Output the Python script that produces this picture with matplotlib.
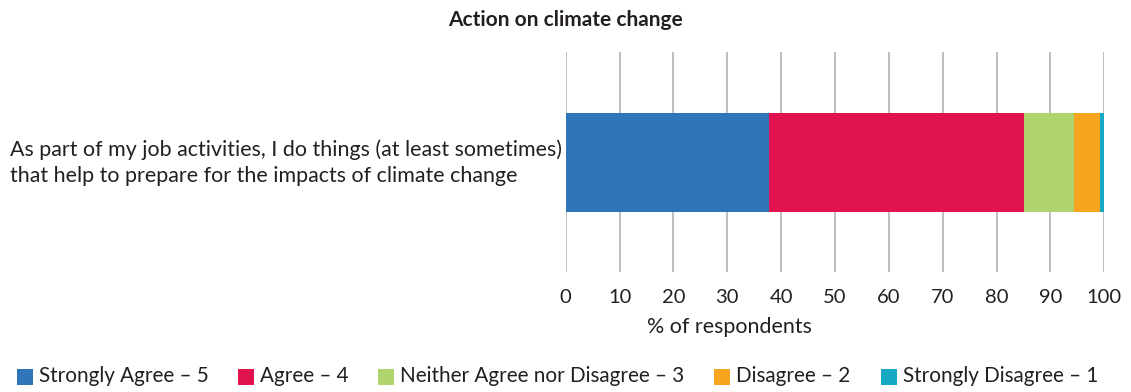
import matplotlib.pyplot as plt
from matplotlib.patches import Rectangle

# Survey responses for one statement, % of respondents
question = "As part of my job activities, I do things (at least sometimes)\nthat help to prepare for the impacts of climate change"
categories = ["Strongly Agree \u2013 5", "Agree \u2013 4", "Neither Agree nor Disagree \u2013 3",
              "Disagree \u2013 2", "Strongly Disagree \u2013 1"]
shares = [37.7, 47.4, 9.3, 4.8, 0.8]
colors = ["#2E75BA", "#E0134F", "#B0D46D", "#F7A51E", "#17A9C3"]
xticks = [0, 10, 20, 30, 40, 50, 60, 70, 80, 90, 100]

plt.rcParams['font.family'] = ['Lato', 'DejaVu Sans']
text_color = "#231F20"
W, H = 1131, 392

fig = plt.figure(figsize=(W / 100, H / 100), dpi=100)
ax = fig.add_axes([0.5002, 0.3061, 0.4762, 0.5612])

left = 0
for share, color in zip(shares, colors):
    ax.barh(0, share, left=left, height=0.9, color=color, zorder=2)
    left += share

ax.set_xlim(0, 100)
ax.set_ylim(-1, 1)
ax.set_xticks(xticks)
ax.set_xticklabels([str(t) for t in xticks], fontsize=14.5, color=text_color)
ax.tick_params(axis='x', length=0, pad=12)
ax.set_yticks([])
ax.grid(axis='x', color="#BDBDBD", linewidth=1.4, zorder=0)
for spine in ax.spines.values():
    spine.set_visible(False)

fig.text(10 / W, 1 - 163 / H, question, fontsize=15.4, color=text_color,
         ha='left', va='center', linespacing=1.4)
fig.text(0.5, 1 - 20 / H, "Action on climate change", fontsize=15, fontweight='bold',
         color=text_color, ha='center', va='center')
fig.text(729 / W, 1 - 327 / H, "% of respondents", fontsize=15.4, color=text_color,
         ha='center', va='center')

# legend row: colour square followed by its label, laid out left to right
legend_x = [17, 238, 378, 714, 881]
for x0, label, color in zip(legend_x, categories, colors):
    fig.patches.append(Rectangle((x0 / W, 1 - 385 / H), 16 / W, 16 / H,
                                 transform=fig.transFigure, facecolor=color,
                                 edgecolor='none'))
    fig.text((x0 + 22) / W, 1 - 376 / H, label, fontsize=14.9, color=text_color,
             ha='left', va='center')

fig.savefig("out.png", dpi=100)
